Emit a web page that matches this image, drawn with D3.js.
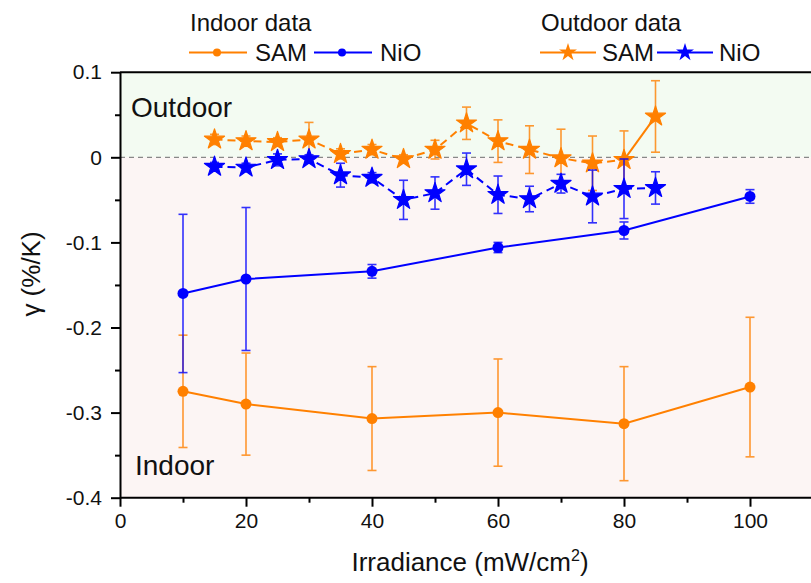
<!DOCTYPE html>
<html>
<head>
<meta charset="utf-8">
<script src="https://cdn.jsdelivr.net/npm/d3@7"></script>
<style>
  body { margin: 0; background: #fff; }
  svg { display: block; font-family: Arial, "Liberation Sans", sans-serif; }
  .axis text { font-size: 21px; fill: #111; }
  .axis path, .axis line { stroke: #000; stroke-width: 2; }
</style>
</head>
<body>
<div id="chart"></div>
<script>
// 1. Data ---------------------------------------------------
var indoorX = [10, 20, 40, 60, 80, 100];
var indoorSam = [-0.275, -0.290, -0.307, -0.300, -0.313, -0.270];
var indoorSamErr = [0.066, 0.060, 0.061, 0.063, 0.067, 0.082];
var indoorNio = [-0.160, -0.143, -0.134, -0.106, -0.086, -0.046];
var indoorNioErr = [0.093, 0.084, 0.008, 0.006, 0.010, 0.008];

var outdoorX = [15, 20, 25, 30, 35, 40, 45, 50, 55, 60, 65, 70, 75, 80, 85];
var outdoorSam = [0.021, 0.019, 0.018, 0.021, 0.004, 0.009, -0.002, 0.009, 0.040, 0.019, 0.009, -0.001, -0.007, -0.003, 0.048];
var outdoorSamErr = [0.006, 0.006, 0.005, 0.020, 0.006, 0.006, 0.005, 0.011, 0.019, 0.025, 0.028, 0.034, 0.032, 0.034, 0.042];
var outdoorNio = [-0.011, -0.012, -0.003, -0.002, -0.021, -0.024, -0.050, -0.042, -0.014, -0.044, -0.049, -0.031, -0.046, -0.037, -0.036];
var outdoorNioErr = [0.005, 0.005, 0.007, 0.005, 0.014, 0.006, 0.023, 0.019, 0.019, 0.022, 0.015, 0.011, 0.031, 0.035, 0.019];

var xTicks = [0, 20, 40, 60, 80, 100];
var xMinor = [10, 30, 50, 70, 90];
var yTicks = [0.1, 0, -0.1, -0.2, -0.3, -0.4];
var yMinor = [0.05, -0.05, -0.15, -0.25, -0.35];
var seriesNames = ["SAM", "NiO"];

var orange = "#ff8000";
var blue = "#0000ff";

// 2. SVG set up ---------------------------------------------
var svgWidth = 811;
var svgHeight = 583;

var svg = d3.select("#chart")
  .append("svg")
  .attr("width", svgWidth)
  .attr("height", svgHeight);

var xScale = d3.scaleLinear().domain([0, 110]).range([120, 813]);
var yScale = d3.scaleLinear().domain([-0.4, 0.1]).range([497.7, 72.2]);

// background bands (outdoor above zero, indoor below)
svg.append("rect")
  .attr("x", xScale(0)).attr("y", yScale(0.1))
  .attr("width", xScale(110) - xScale(0))
  .attr("height", yScale(0) - yScale(0.1))
  .attr("fill", "#f3fbf2");
svg.append("rect")
  .attr("x", xScale(0)).attr("y", yScale(0))
  .attr("width", xScale(110) - xScale(0))
  .attr("height", yScale(-0.4) - yScale(0))
  .attr("fill", "#fcf5f4");

// zero line
svg.append("line")
  .attr("x1", xScale(0)).attr("x2", xScale(110))
  .attr("y1", yScale(0)).attr("y2", yScale(0))
  .attr("stroke", "#888").attr("stroke-width", 1.3)
  .attr("stroke-dasharray", "5,4");

svg.append("text")
  .attr("x", 131).attr("y", yScale(0.1) + 45)
  .style("font-size", "28px").attr("fill", "#111")
  .text("Outdoor");
svg.append("text")
  .attr("x", 135).attr("y", yScale(-0.4) - 23)
  .style("font-size", "28px").attr("fill", "#111")
  .text("Indoor");

// 3. Axes ---------------------------------------------------
var fmt = d => String(Math.round(d * 10) / 10);

svg.append("g")
  .attr("class", "axis")
  .attr("transform", `translate(0, ${yScale(-0.4)})`)
  .call(d3.axisBottom(xScale).tickValues(xTicks).tickSize(9).tickPadding(6).tickSizeOuter(0))
  .call(g => g.select(".domain").attr("d", `M${xScale(0)},0H${svgWidth + 5}`));

svg.append("g")
  .attr("class", "axis")
  .attr("transform", `translate(0, ${yScale(-0.4)})`)
  .call(d3.axisBottom(xScale).tickValues(xMinor).tickSize(5).tickFormat(""))
  .call(g => g.select(".domain").remove());

svg.append("g")
  .attr("class", "axis")
  .attr("transform", `translate(${xScale(0)}, 0)`)
  .call(d3.axisLeft(yScale).tickValues(yTicks).tickSize(9).tickPadding(9).tickFormat(fmt).tickSizeOuter(0));

svg.append("g")
  .attr("class", "axis")
  .attr("transform", `translate(${xScale(0)}, 0)`)
  .call(d3.axisLeft(yScale).tickValues(yMinor).tickSize(5).tickFormat(""))
  .call(g => g.select(".domain").remove());

// top frame
svg.append("line")
  .attr("x1", xScale(0)).attr("x2", svgWidth + 5)
  .attr("y1", yScale(0.1)).attr("y2", yScale(0.1))
  .attr("stroke", "#000").attr("stroke-width", 2);

// axis titles
var xTitle = svg.append("text")
  .attr("x", 470).attr("y", 571)
  .attr("text-anchor", "middle")
  .style("font-size", "26px").attr("fill", "#111");
xTitle.append("tspan").text("Irradiance (mW/cm");
xTitle.append("tspan").attr("dy", -10).style("font-size", "16px").text("2");
xTitle.append("tspan").attr("dy", 10).text(")");

svg.append("text")
  .attr("transform", "rotate(-90)")
  .attr("x", -274).attr("y", 40)
  .attr("text-anchor", "middle")
  .style("font-size", "26px").attr("fill", "#111")
  .text("γ (%/K)");

// 4. Series -------------------------------------------------
function zipSeries(xs, ys, es) {
  return xs.map((x, i) => ({x: x, y: ys[i], e: es[i]}));
}

var series = [
  {data: zipSeries(outdoorX, outdoorSam, outdoorSamErr), color: orange, star: true},
  {data: zipSeries(outdoorX, outdoorNio, outdoorNioErr), color: blue, star: true},
  {data: zipSeries(indoorX, indoorSam, indoorSamErr), color: orange, star: false},
  {data: zipSeries(indoorX, indoorNio, indoorNioErr), color: blue, star: false}
];

var line = d3.line().x(d => xScale(d.x)).y(d => yScale(d.y));
var starPath = d3.symbol().type(d3.symbolStar).size(125);
var legendStar = d3.symbol().type(d3.symbolStar).size(100);
var plot = svg.append("g");

series.forEach(s => {
  // error bars
  var eb = plot.append("g")
    .attr("stroke", s.color).attr("stroke-width", 1.6).attr("opacity", 0.8);
  eb.selectAll("line.v").data(s.data).enter().append("line")
    .attr("x1", d => xScale(d.x)).attr("x2", d => xScale(d.x))
    .attr("y1", d => yScale(d.y + d.e)).attr("y2", d => yScale(d.y - d.e));
  [1, -1].forEach(sign => {
    eb.selectAll(null).data(s.data).enter().append("line")
      .attr("x1", d => xScale(d.x) - 4.5).attr("x2", d => xScale(d.x) + 4.5)
      .attr("y1", d => yScale(d.y + sign * d.e)).attr("y2", d => yScale(d.y + sign * d.e));
  });

  // connecting line
  plot.append("path")
    .datum(s.star ? s.data.slice(0, -1) : s.data)
    .attr("d", line)
    .attr("fill", "none")
    .attr("stroke", s.color).attr("stroke-width", 2)
    .attr("stroke-dasharray", s.star ? "8,5" : null);
  if (s.star) {
    // last segment of the outdoor SAM set is drawn solid in the source
    plot.append("path")
      .datum(s.data.slice(-2))
      .attr("d", line)
      .attr("fill", "none")
      .attr("stroke", s.color).attr("stroke-width", 2)
      .attr("stroke-dasharray", s.color === orange ? null : "8,5");
  }

  // markers
  if (s.star) {
    plot.append("g").selectAll("path").data(s.data).enter().append("path")
      .attr("d", starPath)
      .attr("transform", d => `translate(${xScale(d.x)}, ${yScale(d.y)})`)
      .attr("fill", s.color)
      .attr("stroke", s.color).attr("stroke-width", 1.2).attr("stroke-linejoin", "round");
  } else {
    plot.append("g").selectAll("circle").data(s.data).enter().append("circle")
      .attr("cx", d => xScale(d.x)).attr("cy", d => yScale(d.y))
      .attr("r", 5.5)
      .attr("fill", s.color);
  }
});

// 5. Legend -------------------------------------------------
var legend = svg.append("g").style("font-size", "24px").attr("fill", "#111");

legend.append("text").attr("x", 190).attr("y", 31).text("Indoor data");
legend.append("text").attr("x", 541).attr("y", 31).text("Outdoor data");

var legendRows = [
  {x0: 189, colors: [orange, blue], star: false, gap: [0, 125]},
  {x0: 540, colors: [orange, blue], star: true, gap: [0, 117]}
];

legendRows.forEach(r => {
  seriesNames.forEach((name, i) => {
    var lx = r.x0 + r.gap[i];
    var lw = r.star ? 56 : 58;
    legend.append("line")
      .attr("x1", lx).attr("x2", lx + lw)
      .attr("y1", 52.5).attr("y2", 52.5)
      .attr("stroke", r.colors[i]).attr("stroke-width", 2);
    if (r.star) {
      legend.append("path").attr("d", legendStar)
        .attr("transform", `translate(${lx + lw / 2}, 52.5)`)
        .attr("fill", r.colors[i]);
    } else {
      legend.append("circle").attr("cx", lx + lw / 2 - 1).attr("cy", 52.5)
        .attr("r", 4).attr("fill", r.colors[i]);
    }
    legend.append("text")
      .attr("x", lx + lw + (r.star ? 6 : 8)).attr("y", 61)
      .text(name);
  });
});
</script>
</body>
</html>
